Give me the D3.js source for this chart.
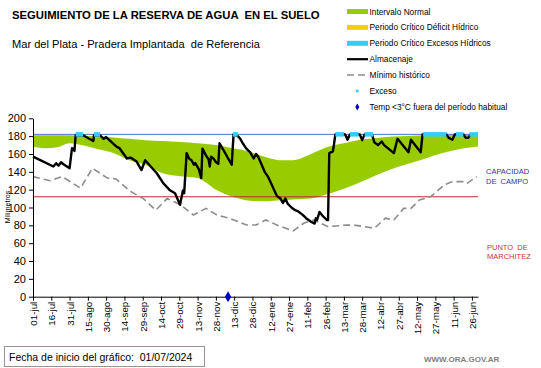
<!DOCTYPE html>
<html>
<head>
<meta charset="utf-8">
<script src="https://cdn.jsdelivr.net/npm/d3@7/dist/d3.min.js"></script>
<style>
  html, body { margin: 0; padding: 0; background: #fff; }
  svg { display: block; font-family: "Liberation Sans", Arial, sans-serif; }
  text { white-space: pre; }
</style>
</head>
<body>
<svg id="chart" width="541" height="368"></svg>
<script>
// ---------------- DATA ----------------
const title = "SEGUIMIENTO DE LA RESERVA DE AGUA  EN EL SUELO";
const subtitle = "Mar del Plata - Pradera Implantada  de Referencia";

// x tick labels (every 15 days from 01-jul)
const xTickDays = [0,15,30,45,60,75,90,105,120,135,150,165,180,195,210,225,240,255,270,285,300,315,330,345,360];
const xTickLabels = ["01-jul","16-jul","31-jul","15-ago","30-ago","14-sep","29-sep","14-oct","29-oct","13-nov","28-nov","13-dic","28-dic","12-ene","27-ene","11-feb","26-feb","13-mar","28-mar","12-abr","27-abr","12-may","27-may","11-jun","26-jun"];
const yTicks = [0,20,40,60,80,100,120,140,160,180,200];

const capacidadCampo = 182;
const puntoMarchitez = 112;

// Normal interval band
const bandDays  = [0,10,20,30,40,52,66,79,92,107,121,135,150,164,178,192,203,213,228,242,255,268,282,296,310,322,336,351,365];
const bandUpper = [181,181,181,181,180.5,180,178.5,177,175.5,174.5,173.5,172,170,166.5,162.5,156,153,153,160,168,172,176,178,179.5,180.5,181,181.5,182,182];
const bandLower = [168,166.5,167.5,172,170,166,161,153,148,138,135,133,120,112,107.5,107,108,109,110,115,121,128,136.5,144,150,155,161,166,168.5];

// Almacenaje (stored water)
const almDays = [0,3,8.5,16.7,19,21,23,25,30,32,33,34,35,41,49.5,50,55,58,60,68.7,71,77,80,85,89,92,101.5,107,112,116.5,120.6,123,124,126,128,130,132,133,136,138,139,142,144,145,146,148,150,152,153,156,160,163,164.5,168,170,172,175,178,181,183,185,190,193,197,200,203,205,207,209,212,215,217,221,224,228,231,232,233,235,238,241,242,243,246,247,248,256,258,260,268,270,272,278,280,283,286,288,296,299,308,310,318,319.5,339,341,344,346,353,355,357,359,365];
const almValues = [157,155,151.5,146,149.6,147,150.7,148.5,144,166.5,165.7,163.4,181,181,174.6,181,181,177,179,168,166.5,155,156,151.5,142,153,138.4,127,119.7,116,103,119,116,161,155,153,148,150,143,133,166,158,154,146,157,155,151,149,172,165,155,148,182,180,177,172,166,162,155,160,156,140,134,122,113,110,105,110,104,100,97,96,92,88,84,82,88,86,95,90,86,86,161,163,172,182,182,176,182,182,175.5,182,182,173,170,174,170,161,177,162,176,162,182,182,178,176,182,182,178,178,182,182];

// Minimo historico
const minDays = [0,14,24,39,48.7,61,68,80,90.5,100.7,110,121,131.5,142,150.7,161,175,183,191,200,213.5,222,230,242,257.5,265,280,289,296,304,310,317,326,337,344,353,356,364];
const minValues = [134.6,130,134.6,121.6,144,133,132,118,110,97,110,103,91.6,99,91.6,88,80.4,80.4,86,80.4,73.7,82.3,86,78.5,80.4,80,76.7,88,86,99,99,108.5,112,125,129,129,127,134.6];

// Exceso periods (start day, end day)
const excesoStart = [35,50,164,248,260,272,320,347,358];
const excesoEnd   = [41,55,168,255,267,279,339,353,365];

// Temp < 3°C outside usual period
const tempDays = [160];
const tempValues = [0];

const legendItems = [
  {label: "Intervalo Normal", type: "bar", color: "#99cc00"},
  {label: "Periodo Crítico Déficit Hídrico", type: "bar", color: "#ffcc00"},
  {label: "Periodo Crítico Excesos Hídricos", type: "bar", color: "#33ccff"},
  {label: "Almacenaje", type: "line", color: "#000"},
  {label: "Mínimo histórico", type: "dash", color: "#8c8c8c"},
  {label: "Exceso", type: "dot", color: "#33ccff"},
  {label: "Temp <3°C fuera del período habitual", type: "diamond", color: "#0000cc"}
];

// ---------------- DRAW ----------------
const svg = d3.select("#chart");
svg.append("rect").attr("width", 541).attr("height", 368).attr("fill", "#fff");

const x = d3.scaleLinear().domain([0, 365]).range([33, 478]);
const y = d3.scaleLinear().domain([0, 200]).range([296.7, 118.3]);

// Titles
svg.append("text").attr("x", 12).attr("y", 19).attr("font-size", 11.3).attr("font-weight", "bold").attr("fill", "#000").text(title);
svg.append("text").attr("x", 12).attr("y", 48).attr("font-size", 11.1).attr("fill", "#000").text(subtitle);

// Legend
const lg = svg.append("g");
legendItems.forEach((it, i) => {
  const cy = 11.5 + i * 15.9;
  const g = lg.append("g");
  if (it.type === "bar") {
    g.append("rect").attr("x", 347).attr("y", cy - 2.5).attr("width", 21).attr("height", 5).attr("fill", it.color);
  } else if (it.type === "line") {
    g.append("line").attr("x1", 347).attr("x2", 368).attr("y1", cy).attr("y2", cy).attr("stroke", it.color).attr("stroke-width", 2.2);
  } else if (it.type === "dash") {
    g.append("line").attr("x1", 347).attr("x2", 368).attr("y1", cy).attr("y2", cy).attr("stroke", it.color).attr("stroke-width", 1.5).attr("stroke-dasharray", "7,4");
  } else if (it.type === "dot") {
    g.append("rect").attr("x", 356).attr("y", cy - 1.3).attr("width", 2.6).attr("height", 2.6).attr("fill", it.color);
  } else if (it.type === "diamond") {
    g.append("path").attr("d", d3.symbol().type(d3.symbolDiamond).size(14)).attr("transform", `translate(357.3,${cy})`).attr("fill", it.color);
  }
  g.append("text").attr("x", 369.5).attr("y", cy + 3).attr("font-size", 8.3).attr("fill", "#000").text(it.label);
});

// Band
const bandData = bandDays.map((d, i) => ({d, u: bandUpper[i], l: bandLower[i]}));
svg.append("path").datum(bandData)
  .attr("d", d3.area().x(p => x(p.d)).y0(p => y(p.l)).y1(p => y(p.u)).curve(d3.curveMonotoneX))
  .attr("fill", "#99cc00");

// Reference lines
svg.append("line").attr("x1", x(0)).attr("x2", x(365)).attr("y1", y(capacidadCampo)).attr("y2", y(capacidadCampo)).attr("stroke", "#4a72c8").attr("stroke-width", 1);
svg.append("line").attr("x1", x(0)).attr("x2", x(365)).attr("y1", y(puntoMarchitez)).attr("y2", y(puntoMarchitez)).attr("stroke", "#c0282d").attr("stroke-width", 1);

// Minimo historico
const minData = minDays.map((d, i) => ({d, v: minValues[i]}));
svg.append("path").datum(minData)
  .attr("d", d3.line().x(p => x(p.d)).y(p => y(p.v)))
  .attr("fill", "none").attr("stroke", "#8c8c8c").attr("stroke-width", 1.6).attr("stroke-dasharray", "7,4");

// Almacenaje
const almData = almDays.map((d, i) => ({d, v: almValues[i]}));
svg.append("path").datum(almData)
  .attr("d", d3.line().x(p => x(p.d)).y(p => y(p.v)))
  .attr("fill", "none").attr("stroke", "#000").attr("stroke-width", 2.4).attr("stroke-linejoin", "round");

// Exceso
excesoStart.forEach((s, i) => {
  svg.append("line").attr("x1", x(s)).attr("x2", x(excesoEnd[i]))
    .attr("y1", y(capacidadCampo)).attr("y2", y(capacidadCampo))
    .attr("stroke", "#33ccff").attr("stroke-width", 4.5);
});

// Axes
const yAxis = d3.axisLeft(y).tickValues(yTicks).tickSize(4).tickSizeOuter(0).tickPadding(3);
const gy = svg.append("g").attr("transform", `translate(${x(0)},0)`).call(yAxis);
gy.selectAll("text").attr("font-size", 11).attr("fill", "#000").attr("font-family", "Liberation Sans, Arial, sans-serif");
gy.selectAll("line, path").attr("stroke", "#000");

const xAxis = d3.axisBottom(x).tickValues(xTickDays).tickFormat((d, i) => xTickLabels[i]).tickSize(4).tickSizeOuter(0);
const gx = svg.append("g").attr("transform", `translate(0,${y(0)})`).call(xAxis);
gx.selectAll("line, path").attr("stroke", "#000");
gx.selectAll("text")
  .attr("font-size", 9.8).attr("fill", "#000").attr("font-family", "Liberation Sans, Arial, sans-serif")
  .attr("transform", "rotate(-90)")
  .attr("x", -5).attr("y", 0).attr("dy", "0.35em")
  .style("text-anchor", "end");

// Temp markers
svg.selectAll(".temp").data(tempDays).enter().append("path")
  .attr("class", "temp")
  .attr("d", d3.symbol().type(d3.symbolDiamond).size(34))
  .attr("transform", (d, i) => `translate(${x(d)},${y(tempValues[i])})`)
  .attr("fill", "#0000cc");

// Y axis title
svg.append("text").attr("transform", "translate(10,207) rotate(-90)").attr("text-anchor", "middle").attr("font-size", 7).attr("fill", "#000").text("Milímetros");

// Side annotations
svg.append("text").attr("x", 486).attr("y", 174).attr("font-size", 7.5).attr("fill", "#333399").text("CAPACIDAD");
svg.append("text").attr("x", 486).attr("y", 184).attr("font-size", 7.5).attr("fill", "#333399").text("DE  CAMPO");
svg.append("text").attr("x", 487).attr("y", 249.5).attr("font-size", 7.5).attr("fill", "#cc3333").text("PUNTO  DE");
svg.append("text").attr("x", 487).attr("y", 259).attr("font-size", 7.5).attr("fill", "#cc3333").text("MARCHITEZ");

// Footer box
svg.append("rect").attr("x", 4.5).attr("y", 346.5).attr("width", 200).attr("height", 20).attr("fill", "#fff").attr("stroke", "#a09090").attr("stroke-width", 1);
svg.append("text").attr("x", 9).attr("y", 361).attr("font-size", 10.5).attr("fill", "#000").text("Fecha de inicio del gráfico:  01/07/2024");
svg.append("text").attr("x", 424).attr("y", 362).attr("font-size", 8).attr("font-weight", "bold").attr("fill", "#808080").text("WWW.ORA.GOV.AR");
</script>
</body>
</html>
